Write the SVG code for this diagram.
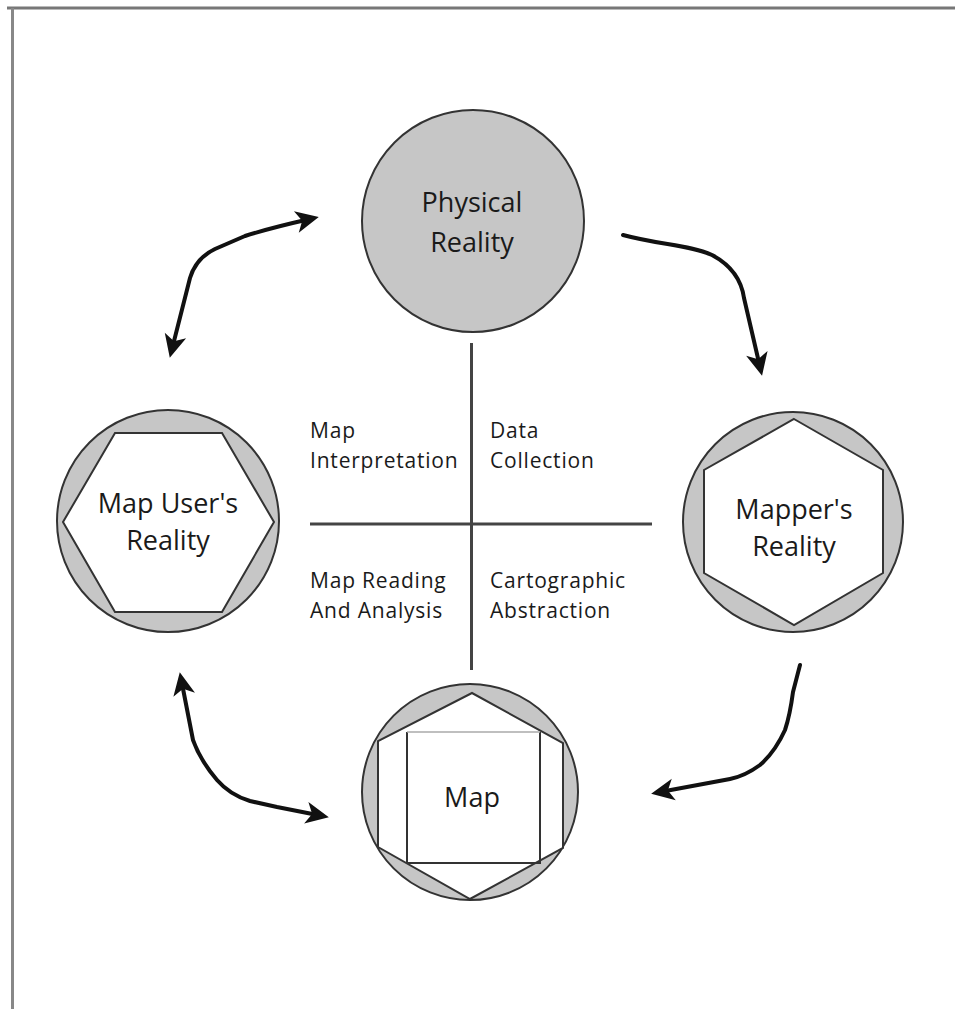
<svg xmlns="http://www.w3.org/2000/svg" width="955" height="1009" viewBox="0 0 955 1009">
<style>
.ring{fill:#c6c6c6;stroke:#333;stroke-width:2}
.inner{fill:#fff;stroke:#333;stroke-width:2}
.node{font-family:"Open Sans","Noto Sans",sans-serif;font-size:27px;fill:#1a1a1a;text-anchor:middle}
.lbl{font-family:"Open Sans","Noto Sans",sans-serif;font-size:21px;letter-spacing:0.8px;fill:#1a1a1a}
.arr{fill:none;stroke:#111;stroke-width:4;stroke-linecap:round;stroke-linejoin:round}
.div{stroke:#444;stroke-width:3}
</style>
<defs>
<marker id="ah" markerUnits="userSpaceOnUse" viewBox="-20 -13 30 26" markerWidth="30" markerHeight="26" refX="0" refY="0" orient="auto-start-reverse">
<path d="M9,0 L-14,-11 L-8,0 L-14,11 Z" fill="#111"/>
</marker>
</defs>
<rect width="955" height="1009" fill="#fff"/>
<g id="frame">
<line x1="7" y1="8" x2="955" y2="8" stroke="#777" stroke-width="3"/>
<line x1="12.5" y1="8" x2="12.5" y2="1009" stroke="#888" stroke-width="3"/>
</g>
<g id="physical-reality">
<circle class="ring" cx="473" cy="221" r="111" fill="#cacaca"/>
<text class="node" x="472" y="212">Physical</text>
<text class="node" x="472" y="252">Reality</text>
</g>
<g id="map-users-reality">
<circle class="ring" cx="168" cy="521" r="111"/>
<polygon class="inner" points="115,433 222,433 274,522 222,612 115,612 63,522"/>
<text class="node" x="168" y="513">Map User's</text>
<text class="node" x="168" y="550">Reality</text>
</g>
<g id="mappers-reality">
<circle class="ring" cx="793" cy="522" r="110"/>
<polygon class="inner" points="794,419 883,470 883,573 794,625 704,573 704,470"/>
<text class="node" x="794" y="519">Mapper's</text>
<text class="node" x="794" y="556">Reality</text>
</g>
<g id="map">
<circle class="ring" cx="470" cy="792" r="108"/>
<polygon class="inner" points="472,693 563,743 563,848 470,899 378,847 378,741"/>
<polyline points="407,732 407,863 540,863 540,732" fill="none" stroke="#333" stroke-width="2"/>
<line x1="407" y1="732" x2="540" y2="732" stroke="#aaa" stroke-width="1.5"/>
<text class="node" x="472" y="807">Map</text>
</g>
<g id="quadrants">
<line class="div" x1="471.5" y1="343" x2="471.5" y2="670"/>
<line class="div" x1="310" y1="524" x2="652" y2="524"/>
<text class="lbl" x="310" y="438">Map</text>
<text class="lbl" x="310" y="468">Interpretation</text>
<text class="lbl" x="490" y="438">Data</text>
<text class="lbl" x="490" y="468">Collection</text>
<text class="lbl" x="310" y="588">Map Reading</text>
<text class="lbl" x="310" y="618">And Analysis</text>
<text class="lbl" x="490" y="588">Cartographic</text>
<text class="lbl" x="490" y="618">Abstraction</text>
</g>
<g id="connectors">
<path class="arr" marker-start="url(#ah)" marker-end="url(#ah)" d="M172,349 L190,278 Q196,258 215,249 L245,236 Q270,228 310,219"/>
<path class="arr" marker-end="url(#ah)" d="M623,235 C660,245 690,245 712,255 Q740,270 744,298 L760,367"/>
<path class="arr" marker-start="url(#ah)" marker-end="url(#ah)" d="M181.5,681 L193,740 Q200,760 217,780 Q230,795 250,801 L277,807 L320,815.5"/>
<path class="arr" marker-end="url(#ah)" d="M800,665 L793,692 Q790,715 785,730 Q775,752 760,765 Q745,776 730,779 L660,792"/>
</g>
</svg>
